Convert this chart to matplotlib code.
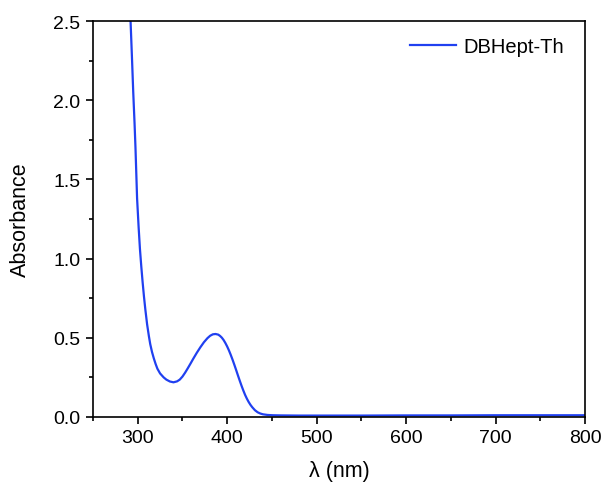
import matplotlib
matplotlib.use('Agg')
import matplotlib.pyplot as plt
from matplotlib.ticker import MultipleLocator, FormatStrFormatter

# --- data ---
wavelength = [289, 291, 292, 293.5, 295, 296.5, 297.5, 299.3, 301, 302.5, 304, 305.5,
              307, 308.5, 310.5, 312.5, 314, 316, 318, 320, 322, 325, 329, 332, 336,
              340, 344, 347, 350, 353, 356, 359, 362, 366, 370, 374, 378, 381, 384,
              387, 390, 392, 394, 396, 398, 400, 402, 404, 406, 408, 410, 412, 414, 416,
              418, 420, 422, 424, 426, 428, 431, 434, 437, 440, 445, 451, 460, 480,
              500, 550, 600, 650, 700, 750, 800]
absorbance = [2.9, 2.62, 2.5, 2.28, 2.05, 1.85, 1.7, 1.38, 1.2, 1.06, 0.95, 0.85,
              0.76, 0.68, 0.585, 0.51, 0.46, 0.41, 0.37, 0.335, 0.305, 0.275, 0.25, 0.236, 0.224,
              0.219, 0.225, 0.236, 0.255, 0.28, 0.308, 0.337, 0.367, 0.405, 0.44, 0.472, 0.498, 0.513, 0.522,
              0.524, 0.52, 0.512, 0.501, 0.486, 0.467, 0.445, 0.42, 0.392, 0.362, 0.33, 0.297, 0.263, 0.23, 0.198,
              0.168, 0.14, 0.116, 0.095, 0.077, 0.062, 0.043, 0.03, 0.022, 0.017, 0.013, 0.011, 0.01, 0.009,
              0.009, 0.009, 0.01, 0.01, 0.011, 0.011, 0.011]
series_name = 'DBHept-Th'

plt.rcParams['font.family'] = ['Liberation Sans', 'DejaVu Sans']

fig = plt.figure(figsize=(6.03, 4.89), dpi=100)
ax = fig.add_axes([0.1542, 0.1452, 0.8160, 0.8098])

ax.plot(wavelength, absorbance, color='#2040f0', lw=1.6, label=series_name,
        solid_joinstyle='round')

ax.set_xlim(250, 800)
ax.set_ylim(0, 2.5)
ax.xaxis.set_major_locator(MultipleLocator(100))
ax.xaxis.set_minor_locator(MultipleLocator(50))
ax.yaxis.set_major_locator(MultipleLocator(0.5))
ax.yaxis.set_minor_locator(MultipleLocator(0.25))
ax.yaxis.set_major_formatter(FormatStrFormatter('%.1f'))
ax.tick_params(which='major', direction='out', length=5, width=1.2, labelsize=14, pad=4)
ax.tick_params(which='minor', direction='out', length=3, width=1.2)
for s in ax.spines.values():
    s.set_linewidth(1.2)

ax.set_xlabel('λ (nm)', fontsize=15.5, labelpad=10)
ax.set_ylabel('Absorbance', fontsize=15.5, labelpad=16)

ax.legend(loc='upper right', frameon=False, fontsize=14.5, handlelength=2.3,
          handletextpad=0.35, borderaxespad=0.4, bbox_to_anchor=(0.99, 1.0))

fig.savefig('out.png', dpi=100)
